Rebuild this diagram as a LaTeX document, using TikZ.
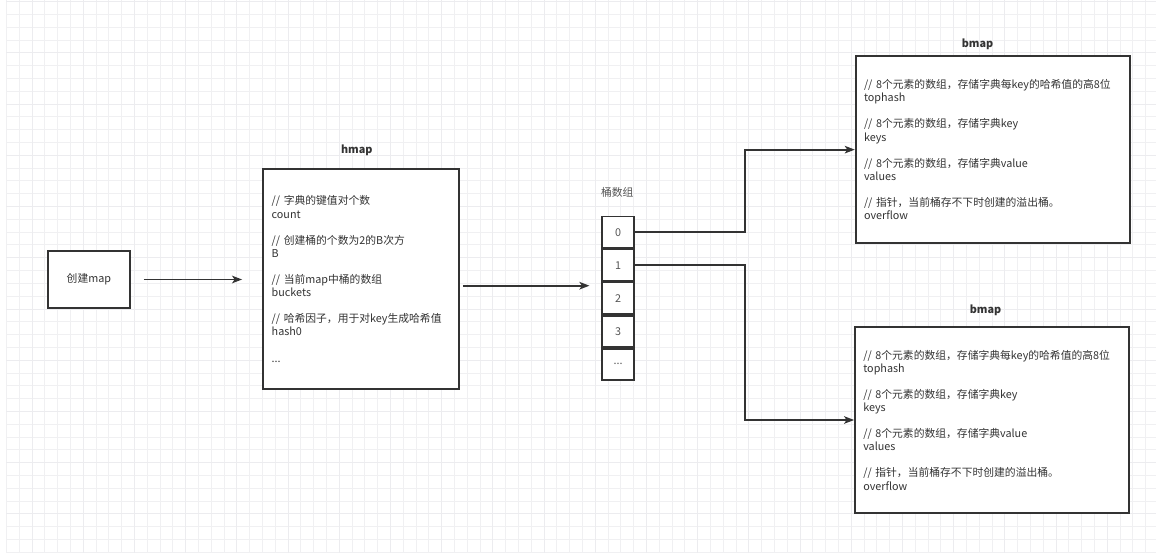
\documentclass[tikz,border=0pt]{standalone}
\usepackage{fontspec}
\setmainfont{Noto Sans CJK SC}
\usetikzlibrary{positioning}
\usetikzlibrary{arrows.meta}
\definecolor{linegray}{HTML}{333333}
\definecolor{textgray}{HTML}{333333}
\definecolor{cellgray}{HTML}{555555}
\definecolor{gridminor}{HTML}{F0F0F2}
\definecolor{gridmajor}{HTML}{ECECEF}
\tikzset{
    mybox/.style = {rectangle, line width=1.8pt, draw=linegray, fill=white, text=textgray, font=\fontsize{10.8}{13.1}\selectfont},
    infobox/.style = {mybox, align=left, inner xsep=9pt, inner ysep=0pt},
    cell/.style = {rectangle, line width=1.8pt, draw=linegray, fill=white, minimum width=31.7pt, minimum height=31.2pt, inner sep=0pt, text=cellgray, font=\fontsize{10.8}{13}\selectfont},
    title/.style = {text=textgray, font=\fontsize{10.8}{13}\selectfont\bfseries},
    caption/.style = {text=cellgray, font=\fontsize{10.8}{13}\selectfont},
    edgen/.style = {-{Stealth[length=10pt,width=7.5pt,inset=2.5pt]}, line width=1.8pt, draw=linegray, line join=miter},
    minorgrid/.style = {draw=gridminor, line width=1pt},
    majorgrid/.style = {draw=gridmajor, line width=1pt}
}

\begin{document}
\begin{tikzpicture}[x=1pt,y=-1pt]
\useasboundingbox (0,0) rectangle (1156,553);
\fill[white] (0,0) rectangle (1156,553);
% background grid
\foreach \i in {0,...,89} \draw[minorgrid] ({6.4+12.8*\i},0) -- ({6.4+12.8*\i},553);
\foreach \j in {0,...,43} \draw[minorgrid] (6.4,{1.8+12.8*\j}) -- (1156,{1.8+12.8*\j});
\foreach \i in {0,...,22} \draw[majorgrid] ({32+51.2*\i},0) -- ({32+51.2*\i},553);
\foreach \j in {0,...,10} \draw[majorgrid] (6.4,{1.8+51.2*\j}) -- (1156,{1.8+51.2*\j});

\node[mybox, minimum width=82.3pt, minimum height=57.6pt] at (88.9, 279.5) (create) {创建map};

\node[infobox, text width=178.3pt, minimum height=220pt] at (360.85, 279) (hmap) {%
// 字典的键值对个数\\ count\\[13.1pt]
// 创建桶的个数为2的B次方\\ B\\[13.1pt]
// 当前map中桶的数组\\ buckets\\[13.1pt]
// 哈希因子，用于对key生成哈希值\\ hash0\\[13.1pt]
...};
\node[title] at (356.7, 150) (hmaptitle) {hmap};

\node[caption] at (617.3, 192.7) (arrtitle) {桶数组};
\node[cell] at (618.2, 232.2) (c0) {0};
\node[cell, below=0pt of c0] (c1) {1};
\node[cell, below=0pt of c1] (c2) {2};
\node[cell, below=0pt of c2] (c3) {3};
\node[cell, below=0pt of c3] (c4) {...};

\node[infobox, inner xsep=8.3pt, text width=257.7pt, minimum height=187.3pt] at (992.85, 149.65) (bmapa) {%
// 8个元素的数组，存储字典每key的哈希值的高8位\\ tophash\\[13.1pt]
// 8个元素的数组，存储字典key\\ keys\\[13.1pt]
// 8个元素的数组，存储字典value\\ values\\[13.1pt]
// 指针，当前桶存不下时创建的溢出桶。\\ overflow};
\node[title] at (977.5, 44.7) (bmapatitle) {bmap};

\node[infobox, inner xsep=8.3pt, text width=257.7pt, minimum height=186.6pt] at (992.15, 420) (bmapb) {%
// 8个元素的数组，存储字典每key的哈希值的高8位\\ tophash\\[13.1pt]
// 8个元素的数组，存储字典key\\ keys\\[13.1pt]
// 8个元素的数组，存储字典value\\ values\\[13.1pt]
// 指针，当前桶存不下时创建的溢出桶。\\ overflow};
\node[title] at (985.5, 310.3) (bmapbtitle) {bmap};

\coordinate (bend) at (745, 300);
%
\draw[edgen, shorten <=13pt, shorten >=19.7pt] (create.east) -- (create.east -| hmap.west);
\draw[edgen, shorten <=3pt, shorten >=12pt] ([yshift=-6.7pt]hmap.east) -- ([yshift=-6.7pt]hmap.east -| c0.west);
\draw[edgen] (c0.east) -- (c0.east -| bend) -- (bend |- bmapa.west) -- (bmapa.west);
\draw[edgen] (c1.east) -- (c1.east -| bend) -- (bend |- bmapb.west) -- (bmapb.west);
\end{tikzpicture}
\end{document}
